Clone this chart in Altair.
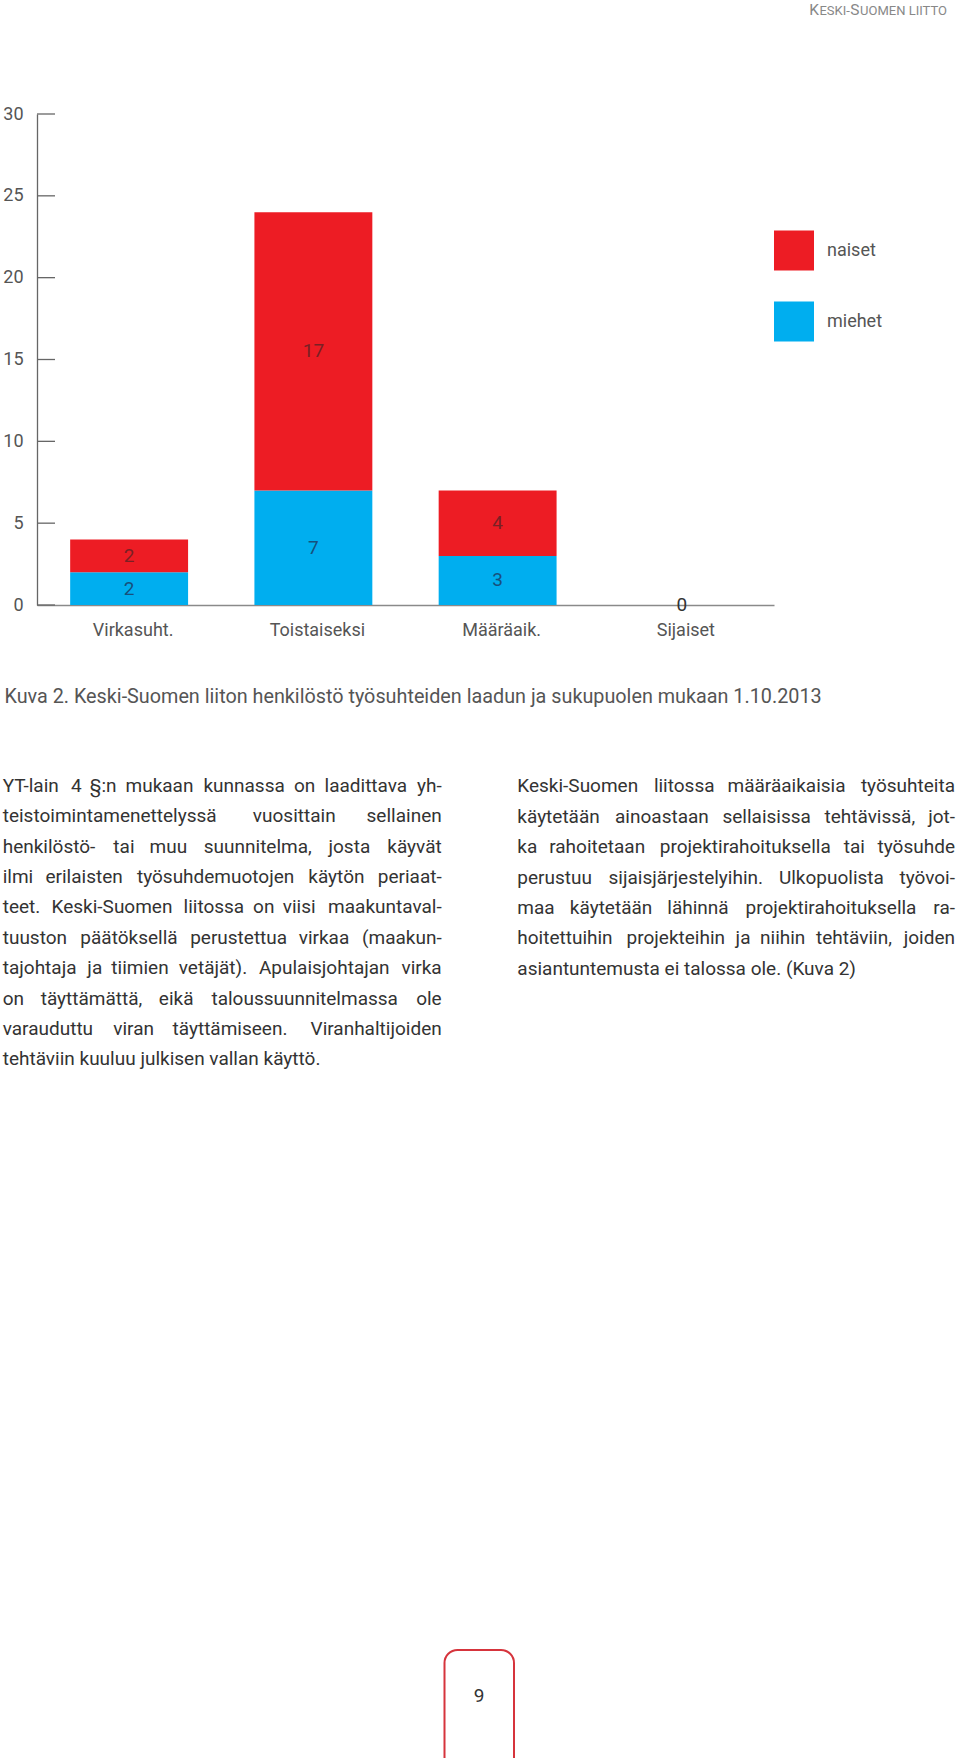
import altair as alt
import pandas as pd

# ---------------- data ----------------
categories = ["Virkasuht.", "Toistaiseksi", "Määräaik.", "Sijaiset"]
naiset = [2, 17, 4, 0]
miehet = [2, 7, 3, 0]
series_names = ["naiset", "miehet"]
y_ticks = [0, 5, 10, 15, 20, 25, 30]

header_parts = ["K", "ESKI-", "S", "UOMEN LIITTO"]   # small-caps header "Keski-Suomen liitto"
caption_text = "Kuva 2. Keski-Suomen liiton henkilöstö työsuhteiden laadun ja sukupuolen mukaan 1.10.2013"
left_lines = [
    "YT-lain 4 §:n mukaan kunnassa on laadittava yh-",
    "teistoimintamenettelyssä vuosittain sellainen",
    "henkilöstö- tai muu suunnitelma, josta käyvät",
    "ilmi erilaisten työsuhdemuotojen käytön periaat-",
    "teet. Keski-Suomen liitossa on viisi maakuntaval-",
    "tuuston päätöksellä perustettua virkaa (maakun-",
    "tajohtaja ja tiimien vetäjät). Apulaisjohtajan virka",
    "on täyttämättä, eikä taloussuunnitelmassa ole",
    "varauduttu viran täyttämiseen. Viranhaltijoiden",
    "tehtäviin kuuluu julkisen vallan käyttö.",
]
right_lines = [
    "Keski-Suomen liitossa määräaikaisia työsuhteita",
    "käytetään ainoastaan sellaisissa tehtävissä, jot-",
    "ka rahoitetaan projektirahoituksella tai työsuhde",
    "perustuu sijaisjärjestelyihin. Ulkopuolista työvoi-",
    "maa käytetään lähinnä projektirahoituksella ra-",
    "hoitettuihin projekteihin ja niihin tehtäviin, joiden",
    "asiantuntemusta ei talossa ole. (Kuva 2)",
]
page_number = "9"

rows = []
for i, c in enumerate(categories):
    rows.append({"cat": c, "series": "miehet", "value": miehet[i], "ord": 0})
    rows.append({"cat": c, "series": "naiset", "value": naiset[i], "ord": 1})
df = pd.DataFrame(rows)

# ---------------- styling ----------------
RED = "#ED1C24"
BLUE = "#00AEEF"
FONT = "Roboto"
L, T = 37, 114          # plot origin on the page
W, H = 737, 491         # plot size
BODY_FS = 19

# approximate Roboto advance widths (em) used to justify the body text
EM = {
    " ": 0.243, "a": 0.531, "b": 0.548, "c": 0.511, "d": 0.550, "e": 0.517,
    "f": 0.340, "g": 0.548, "h": 0.538, "i": 0.237, "j": 0.233, "k": 0.495,
    "l": 0.237, "m": 0.855, "n": 0.539, "o": 0.557, "p": 0.548, "q": 0.555,
    "r": 0.331, "s": 0.503, "t": 0.319, "u": 0.538, "v": 0.473, "w": 0.733,
    "x": 0.484, "y": 0.462, "z": 0.484, "ä": 0.531, "ö": 0.557, "-": 0.270,
    ".": 0.257, ",": 0.192, ":": 0.236, "(": 0.334, ")": 0.339, "§": 0.599,
    "A": 0.652, "E": 0.548, "I": 0.270, "K": 0.619, "L": 0.525, "M": 0.873,
    "N": 0.713, "O": 0.687, "S": 0.594, "T": 0.597, "U": 0.648, "V": 0.636,
    "Y": 0.601,
}
CAL = 1.063


def text_w(s, fs):
    return sum(EM.get(ch, 0.562) for ch in s) * fs * CAL


word_rows = []


def add_column(lines, x0, x1, base_y, step, fs):
    lw = x1 - x0
    for li, line in enumerate(lines):
        y = base_y + li * step - T
        words = line.split(" ")
        if li == len(lines) - 1 or len(words) < 2:
            word_rows.append({"t": line, "px": x0 - L, "py": y, "fs": fs, "a": "left"})
            continue
        ws = [text_w(w, fs) for w in words]
        gap = (lw - sum(ws)) / (len(words) - 1)
        acc = x0
        for wi, (w, wd) in enumerate(zip(words, ws)):
            if wi == 0:
                word_rows.append({"t": w, "px": x0 - L, "py": y, "fs": fs, "a": "left"})
            elif wi == len(words) - 1:
                word_rows.append({"t": w, "px": x1 - L, "py": y, "fs": fs, "a": "right"})
            else:
                word_rows.append({"t": w, "px": acc + wd / 2 - L, "py": y, "fs": fs, "a": "center"})
            acc += wd + gap


add_column(left_lines, 2.7, 441.7, 791.7, 30.4, BODY_FS)
add_column(right_lines, 517.3, 955.0, 792.3, 30.4, BODY_FS)

# small-caps header, right aligned at x=953
hdr_sizes = [15.5 if p in ("K", "S") else 13 for p in header_parts]
hdr_total = sum(text_w(p, s) for p, s in zip(header_parts, hdr_sizes))
hx = 953 - hdr_total
for p, s in zip(header_parts, hdr_sizes):
    word_rows.append({"t": p, "px": hx - L, "py": 15 - T, "fs": s, "a": "hdr"})
    hx += text_w(p, s) * (0.97 if p.endswith("-") else 1.0)

words_df = pd.DataFrame(word_rows)

x_enc = alt.X(
    "cat:N",
    sort=categories,
    scale=alt.Scale(paddingInner=0.36, paddingOuter=0.18),
    axis=alt.Axis(
        title=None, labelAngle=0, ticks=False, tickSize=0, labelPadding=16,
        labelFontSize=18, labelColor="#555", labelFont=FONT,
        domainColor="#8a8a8a", domainWidth=1.5, grid=False, labelOffset=4,
    ),
)
y_scale = alt.Scale(domain=[0, 30], nice=False, zero=True)
y_axis = alt.Axis(
    title=None, values=y_ticks, ticks=False, tickSize=0, labelPadding=14,
    labelFontSize=18, labelColor="#555", labelFont=FONT,
    domainColor="#666", domainWidth=1.3, grid=False,
)

bars = alt.Chart(df).mark_bar().encode(
    x=x_enc,
    y=alt.Y("value:Q", scale=y_scale, axis=y_axis, stack="zero"),
    color=alt.Color(
        "series:N",
        scale=alt.Scale(domain=series_names, range=[RED, BLUE]),
        legend=alt.Legend(
            title=None, orient="none", legendX=W, legendY=116.5,
            symbolType="square", symbolSize=1600, symbolStrokeWidth=0,
            symbolOpacity=1, labelFontSize=18, labelColor="#555",
            labelFont=FONT, labelOffset=13, rowPadding=31, padding=0,
        ),
    ),
    order=alt.Order("ord:Q"),
)

tick_df = pd.DataFrame({"v": y_ticks})
ticks = alt.Chart(tick_df).mark_rule(color="#666", strokeWidth=1.3).encode(
    y=alt.Y("v:Q", scale=y_scale, axis=y_axis),
    x=alt.value(0),
    x2=alt.value(18),
)

labels = (
    alt.Chart(df)
    .transform_stack(
        stack="value", groupby=["cat"], as_=["y0", "y1"],
        sort=[alt.SortField("ord", order="ascending")],
    )
    .transform_calculate(mid="(datum.y0 + datum.y1) / 2")
    .transform_filter("datum.value > 0 || datum.series == 'miehet'")
    .mark_text(fontSize=19, font=FONT, baseline="middle")
    .encode(
        x=x_enc,
        y=alt.Y("mid:Q", scale=y_scale, axis=y_axis),
        text="value:Q",
        color=alt.condition(
            "datum.value == 0",
            alt.value("#333333"),
            alt.Color(
                "series:N",
                scale=alt.Scale(domain=series_names, range=["#7a2024", "#17507c"]),
                legend=None,
            ),
        ),
    )
)


def word_layer(anchor, align, color):
    return (
        alt.Chart(words_df)
        .transform_filter(f"datum.a == '{anchor}'")
        .mark_text(align=align, baseline="alphabetic", font=FONT, color=color)
        .encode(
            x=alt.X("px:Q", scale=None),
            y=alt.Y("py:Q", scale=None),
            size=alt.Size("fs:Q", scale=None),
            text="t:N",
        )
    )


w_left = word_layer("left", "left", "#333")
w_center = word_layer("center", "center", "#333")
w_right = word_layer("right", "right", "#333")
w_hdr = word_layer("hdr", "left", "#888")

one = pd.DataFrame({"k": [0]})

caption = alt.Chart(one).mark_text(
    align="left", baseline="alphabetic", fontSize=19.8, font=FONT, color="#555"
).encode(x=alt.value(4.5 - L), y=alt.value(703 - T), text=alt.value(caption_text))

box = alt.Chart(one).mark_rect(
    filled=False, stroke="#d6343c", strokeWidth=2, cornerRadius=13
).encode(
    x=alt.value(444.5 - L), x2=alt.value(514 - L),
    y=alt.value(1650 - T), y2=alt.value(1800 - T),
)

num = alt.Chart(one).mark_text(
    align="center", baseline="middle", fontSize=19, font=FONT, color="#333"
).encode(x=alt.value(479 - L), y=alt.value(1696 - T), text=alt.value(page_number))

chart = (
    alt.layer(bars, ticks, labels, w_left, w_center, w_right, w_hdr, caption, box, num)
    .resolve_scale(color="independent")
    .properties(
        width=W, height=H,
        padding={"left": L, "top": T, "right": 960 - L - W, "bottom": 1758 - T - H},
        autosize=alt.AutoSizeParams(type="none"),
        background="white",
    )
    .configure_view(stroke=None)
)

chart.save("out.html", embed_options={"renderer": "svg", "actions": False})
